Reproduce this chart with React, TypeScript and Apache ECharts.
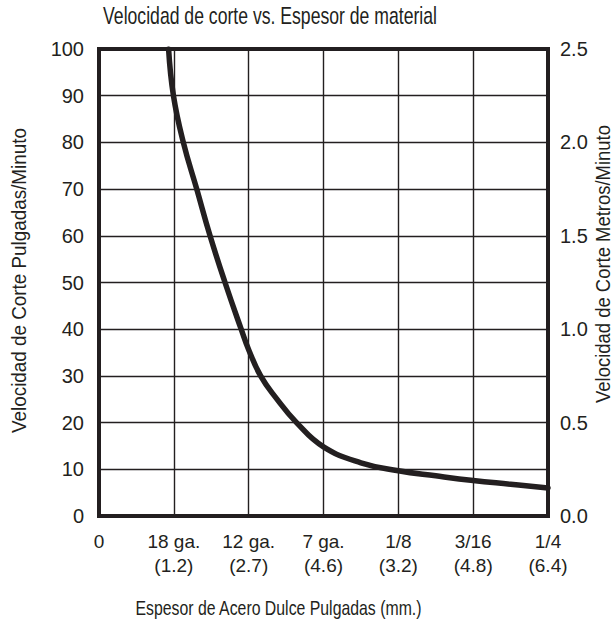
import React, { useEffect, useRef } from 'react';
import * as echarts from 'echarts';

const gaugeLabels = ['0', '18 ga.', '12 ga.', '7 ga.', '1/8', '3/16', '1/4'];
const mmLabels = ['', '(1.2)', '(2.7)', '(4.6)', '(3.2)', '(4.8)', '(6.4)'];
const thickness = [0.93, 0.995, 1.127, 1.306, 1.484, 1.684, 1.9, 2.0, 2.16, 2.36, 2.64, 3.0, 3.5, 4.0, 4.5, 5.0, 5.5, 6.0];
const speedIpm = [100, 90, 80, 70, 60, 50, 40, 35.6, 30, 25.4, 20, 14.8, 11.4, 9.7, 8.6, 7.6, 6.8, 6.0];

const titleText = 'Velocidad de corte vs. Espesor de material';
const leftName = 'Velocidad de Corte Pulgadas/Minuto';
const rightName = 'Velocidad de Corte Metros/Minuto';
const xName = 'Espesor de Acero Dulce Pulgadas (mm.)';

const FONT = '"Liberation Sans", Arial, sans-serif';
const INK = '#231f20';

function fitScale(text: string, font: string, target: number): number {
  const c = document.createElement('canvas').getContext('2d');
  if (!c) return 1;
  c.font = font;
  const w = c.measureText(text).width;
  return w > 0 ? target / w : 1;
}

export default function App() {
  const ref = useRef<HTMLDivElement>(null);
  useEffect(() => {
    if (!ref.current) return;
    const chart = echarts.init(ref.current, null, { renderer: 'svg' });
    const data = thickness.map((t, i) => [t, speedIpm[i]]);
    const titleFont = `24px ${FONT}`;
    const nameFont = `20px ${FONT}`;
    const mkText = (text: string, font: string, x: number, y: number, width: number, rotated: boolean) => ({
      type: 'text',
      x,
      y,
      rotation: rotated ? Math.PI / 2 : 0,
      scaleX: fitScale(text, font, width),
      style: { text, font, fill: INK, textAlign: 'center', textVerticalAlign: 'middle' },
    });
    chart.setOption({
      animation: false,
      backgroundColor: '#ffffff',
      grid: {
        left: 99,
        right: 68,
        top: 49,
        bottom: 106,
        show: true,
        borderColor: INK,
        borderWidth: 4,
        containLabel: false,
      },
      graphic: [
        mkText(titleText, titleFont, 270, 15, 334, false),
        mkText(leftName, nameFont, 18.5, 280.5, 305, true),
        mkText(rightName, nameFont, 603.5, 264, 278, true),
        mkText(xName, nameFont, 278.5, 608, 287, false),
      ],
      xAxis: {
        type: 'value',
        min: 0,
        max: 6,
        interval: 1,
        axisLine: { show: false },
        axisTick: { show: false },
        splitLine: { show: true, lineStyle: { color: INK, width: 1.4 } },
        axisLabel: {
          margin: 13,
          color: INK,
          fontFamily: FONT,
          fontSize: 19,
          lineHeight: 24,
          formatter: (v: number) => {
            const i = Math.round(v);
            return mmLabels[i] ? `${gaugeLabels[i]}\n${mmLabels[i]}` : gaugeLabels[i];
          },
        },
      },
      yAxis: [
        {
          type: 'value',
          min: 0,
          max: 100,
          interval: 10,
          position: 'left',
          axisLine: { show: false },
          axisTick: { show: false },
          splitLine: { show: true, lineStyle: { color: INK, width: 1.4 } },
          axisLabel: { margin: 15, color: INK, fontFamily: FONT, fontSize: 20 },
        },
        {
          type: 'value',
          min: 0,
          max: 2.5,
          interval: 0.5,
          position: 'right',
          axisLine: { show: false },
          axisTick: { show: false },
          splitLine: { show: false },
          axisLabel: { margin: 12, color: INK, fontFamily: FONT, fontSize: 20, formatter: (v: number) => v.toFixed(1) },
        },
      ],
      series: [
        {
          type: 'line',
          data,
          xAxisIndex: 0,
          yAxisIndex: 0,
          smooth: 0.45,
          showSymbol: false,
          symbol: 'none',
          lineStyle: { color: INK, width: 5.5, cap: 'round' },
          clip: true,
        },
      ],
    });
    return () => chart.dispose();
  }, []);
  return <div ref={ref} style={{ position: 'fixed', left: 0, top: 0, width: 616, height: 622 }} />;
}
